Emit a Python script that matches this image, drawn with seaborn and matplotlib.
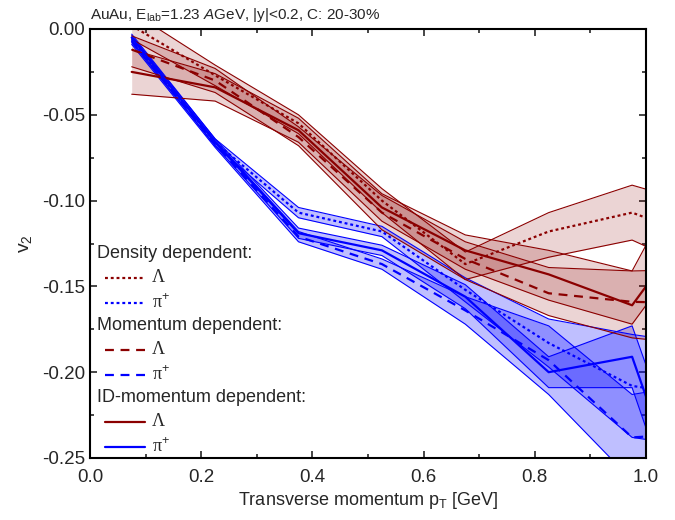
import numpy as np
import pandas as pd
import matplotlib
matplotlib.use("Agg")
import matplotlib.pyplot as plt
import seaborn as sns
from matplotlib.ticker import MultipleLocator, FormatStrFormatter

# ---------------- data ----------------
pt = [0.075, 0.225, 0.375, 0.525, 0.675, 0.825, 0.975, 1.125]

# Lambda
dens_L = [0.002, -0.027, -0.055, -0.100, -0.137, -0.118, -0.107, -0.125]
dens_L_lo = [-0.006, -0.033, -0.061, -0.107, -0.146, -0.133, -0.123, -0.145]
dens_L_hi = [0.010, -0.021, -0.050, -0.093, -0.130, -0.107, -0.091, -0.105]

mom_L = [-0.012, -0.030, -0.063, -0.107, -0.134, -0.154, -0.159, -0.160]
mom_L_lo = [-0.022, -0.037, -0.068, -0.117, -0.146, -0.167, -0.180, -0.185]
mom_L_hi = [-0.004, -0.023, -0.057, -0.097, -0.124, -0.139, -0.141, -0.140]

idm_L = [-0.025, -0.034, -0.059, -0.104, -0.129, -0.143, -0.161, -0.095]
idm_L_lo = [-0.038, -0.042, -0.066, -0.112, -0.140, -0.158, -0.172, -0.106]
idm_L_hi = [-0.012, -0.026, -0.052, -0.096, -0.120, -0.129, -0.141, -0.051]

# pi+
dens_P = [-0.006, -0.066, -0.107, -0.118, -0.152, -0.183, -0.208, -0.215]
dens_P_err = [0.002, 0.002, 0.003, 0.003, 0.007, 0.014, 0.030, 0.030]

mom_P = [-0.007, -0.067, -0.121, -0.137, -0.164, -0.193, -0.238, -0.235]
mom_P_err = [0.002, 0.002, 0.003, 0.003, 0.008, 0.020, 0.025, 0.030]

idm_P = [-0.005, -0.066, -0.119, -0.129, -0.156, -0.200, -0.191, -0.330]
idm_P_err = [0.002, 0.002, 0.003, 0.003, 0.007, 0.009, 0.018, 0.020]

models = ["Density dependent:", "Momentum dependent:", "ID-momentum dependent:"]
species = ["Λ", "π+"]

RED = "#8B0000"
BLUE = "#0000FF"

# ---------------- style ----------------
sns.set_style("ticks")
plt.rcParams["font.family"] = ["Liberation Sans", "DejaVu Sans"]
plt.rcParams["mathtext.fontset"] = "custom"
plt.rcParams["mathtext.rm"] = "Liberation Sans"
plt.rcParams["mathtext.it"] = "Liberation Sans:italic"
plt.rcParams["mathtext.bf"] = "Liberation Sans:bold"
plt.rcParams["axes.unicode_minus"] = False

fig = plt.figure(figsize=(6.75, 5.2), dpi=100)
ax = fig.add_axes([90 / 675, 1 - 458 / 520, 556 / 675, 429 / 520])

# long table for seaborn
rows = []
series = {
    ("Density dependent:", "Λ"): dens_L,
    ("Momentum dependent:", "Λ"): mom_L,
    ("ID-momentum dependent:", "Λ"): idm_L,
    ("Density dependent:", "π+"): dens_P,
    ("Momentum dependent:", "π+"): mom_P,
    ("ID-momentum dependent:", "π+"): idm_P,
}
for (m, s), vals in series.items():
    for xv, yv in zip(pt, vals):
        rows.append({"pt": xv, "v2": yv, "model": m, "species": s})
df = pd.DataFrame(rows)

# bands
pt_a = np.array(pt)
bands = [
    (list(np.array(dens_P) - np.array(dens_P_err)), list(np.array(dens_P) + np.array(dens_P_err)), BLUE),
    (list(np.array(mom_P) - np.array(mom_P_err)), list(np.array(mom_P) + np.array(mom_P_err)), BLUE),
    (list(np.array(idm_P) - np.array(idm_P_err)), list(np.array(idm_P) + np.array(idm_P_err)), BLUE),
    (dens_L_lo, dens_L_hi, RED),
    (mom_L_lo, mom_L_hi, RED),
    (idm_L_lo, idm_L_hi, RED),
]
for lo, hi, c in bands:
    a = 0.17 if c == RED else 0.25
    ax.fill_between(pt_a, lo, hi, color=c, alpha=a, linewidth=0)
    ax.plot(pt_a, lo, color=c, lw=0.8)
    ax.plot(pt_a, hi, color=c, lw=0.8)

dash_map = {
    "Density dependent:": (1.3, 1.3),
    "Momentum dependent:": (4, 3),
    "ID-momentum dependent:": "",
}
sns.lineplot(data=df, x="pt", y="v2", hue="species", style="model",
             palette={"Λ": RED, "π+": BLUE}, dashes=dash_map,
             estimator=None, sort=True, legend=False, lw=1.6, ax=ax)

# ---------------- axes ----------------
ax.set_xlim(0.0, 1.0)
ax.set_ylim(-0.25, 0.0)
ax.xaxis.set_major_locator(MultipleLocator(0.2))
ax.xaxis.set_minor_locator(MultipleLocator(0.1))
ax.yaxis.set_major_locator(MultipleLocator(0.05))
ax.yaxis.set_minor_locator(MultipleLocator(0.025))
ax.xaxis.set_major_formatter(FormatStrFormatter("%.1f"))
ax.yaxis.set_major_formatter(FormatStrFormatter("%.2f"))
ax.tick_params(which="both", direction="in", top=True, right=True,
               labelsize=13.5, width=1.2)
ax.tick_params(axis="x", which="major", pad=8)
ax.tick_params(which="major", length=5)
ax.tick_params(which="minor", length=3)
for sp in ax.spines.values():
    sp.set_linewidth(1.5)
    sp.set_color("black")
    sp.set_visible(True)

ax.set_xlabel("Transverse momentum p$_{\\rm T}$ [GeV]", fontsize=13, labelpad=3)
ax.set_ylabel("v$_{2}$", fontsize=14, labelpad=6)
ax.text(0.0, 1.012, "AuAu, E$_{\\rm lab}$=1.23 $A$GeV, |y|<0.2, C: 20-30%",
        transform=ax.transAxes, fontsize=11, ha="left", va="bottom")

# ---------------- legend (manual) ----------------
def fx(px):
    return (px - 90) / 556

def fy(py):
    return (458 - py) / 429

ys_pix = [253, 278, 303, 326, 350, 375, 398, 422, 447]
k = 0
for m in models:
    ax.text(fx(97), fy(ys_pix[k]), m, transform=ax.transAxes, fontsize=13,
            ha="left", va="center")
    k += 1
    for s, c, lab in [("Λ", RED, "Λ"), ("π+", BLUE, "π$^{+}$")]:
        d = dash_map[m]
        line = ax.plot([fx(105), fx(145)], [fy(ys_pix[k])] * 2, color=c, lw=1.6,
                       transform=ax.transAxes, clip_on=False)[0]
        if d:
            line.set_dashes(d)
        ax.text(fx(152), fy(ys_pix[k]), lab, transform=ax.transAxes, fontsize=13,
                ha="left", va="center", family=["Liberation Serif", "DejaVu Serif"])
        k += 1

fig.savefig("out.png", dpi=100)
